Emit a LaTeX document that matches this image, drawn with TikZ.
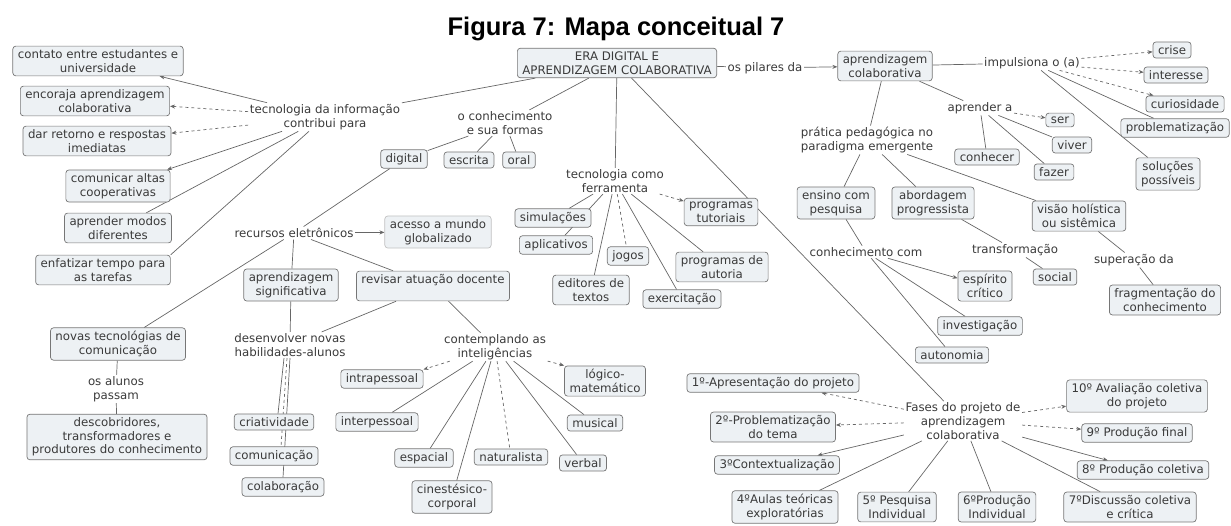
\documentclass[tikz,border=0pt]{standalone}
\usepackage{fontspec}
\setmainfont{DejaVu Sans}
\newfontfamily\titlefont{Liberation Sans}
\usetikzlibrary{arrows.meta,backgrounds}
\definecolor{boxfill}{HTML}{EDF1F4}
\definecolor{boxline}{HTML}{767676}
\definecolor{linkc}{HTML}{666666}
\definecolor{txtc}{HTML}{3A3A3A}
\begin{document}
\begin{tikzpicture}[x=1pt,y=-1pt,font=\fontsize{11.8}{13.6}\selectfont,
    concept/.style={draw=boxline,fill=boxfill,rounded corners=3pt,align=center,
        inner xsep=5pt,inner ysep=3.5pt,line width=0.7pt,text=txtc},
    phrase/.style={align=center,inner sep=1.5pt,text=txtc},
    link/.style={draw=linkc,line width=0.7pt},
    arr/.style={link,-{Stealth[length=5pt,width=4pt]}},
    dlink/.style={link,dashed},
    darr/.style={arr,dashed}]
        \useasboundingbox (0,0) rectangle (1231,525);
        %% Title
        \node[anchor=base,font=\titlefont\bfseries\fontsize{25.5}{30}\selectfont] (title) at (616,35) {Figura 7: Mapa conceitual 7};
        %% Root
        \node[concept] (era) at (617,63) {ERA DIGITAL E\\APRENDIZAGEM COLABORATIVA};
        %% Tecnologia da informacao
        \node[phrase] (tecinfo) at (325,117) {tecnologia da informação\\contribui para};
        \node[concept] (contato) at (98,61) {contato entre estudantes e\\universidade};
        \node[concept] (encoraja) at (95,101) {encoraja aprendizagem\\colaborativa};
        \node[concept] (retorno) at (97,141) {dar retorno e respostas\\imediatas};
        \node[concept] (comunicar) at (118,186) {comunicar altas\\cooperativas};
        \node[concept] (modos) at (118,228) {aprender modos\\diferentes};
        \node[concept] (enfatizar) at (103,270) {enfatizar tempo para\\as tarefas};
        %% Conhecimento e suas formas
        \node[phrase] (conhec) at (505,123) {o conhecimento\\e sua formas};
        \node[concept] (digital) at (404,159) {digital};
        \node[concept] (escrita) at (469,160) {escrita};
        \node[concept] (oral) at (519,160) {oral};
        \node[phrase] (recursos) at (294,233) {recursos eletrônicos};
        \node[concept,draw=boxline!45] (acesso) at (438,232) {acesso a mundo\\globalizado};
        \node[concept] (signif) at (291,285) {aprendizagem\\significativa};
        \node[concept] (revisar) at (433,286) {revisar atuação docente\\\mbox{}};
        \node[concept] (novas) at (118,344) {novas tecnológias de\\comunicação};
        \node[phrase] (alunos) at (116,389) {os alunos\\passam};
        \node[concept] (descob) at (117,437) {descobridores,\\transformadores e\\produtores do conhecimento};
        \node[phrase] (habil) at (290,345) {desenvolver novas\\habilidades-alunos};
        \node[concept] (criat) at (274,422) {criatividade};
        \node[concept] (comunic) at (274,456) {comunicação};
        \node[concept] (colab) at (283,487) {colaboração};
        %% Inteligencias
        \node[phrase] (contemp) at (495,347) {contemplando as\\inteligências};
        \node[concept] (intra) at (382,379) {intrapessoal};
        \node[concept] (inter) at (377,422) {interpessoal};
        \node[concept] (logico) at (605,381) {lógico-\\matemático};
        \node[concept] (musical) at (595,423) {musical};
        \node[concept] (espacial) at (424,458) {espacial};
        \node[concept] (natural) at (511,457) {naturalista};
        \node[concept] (verbal) at (583,463) {verbal};
        \node[concept] (cines) at (452,497) {cinestésico-\\corporal};
        %% Tecnologia como ferramenta
        \node[phrase] (ferram) at (615,181) {tecnologia como\\ferramenta};
        \node[concept] (simul) at (553,218) {simulações};
        \node[concept] (aplic) at (556,245) {aplicativos};
        \node[concept] (jogos) at (628,256) {jogos};
        \node[concept] (editores) at (591,290) {editores de\\textos};
        \node[concept] (exerc) at (682,299) {exercitação};
        \node[concept] (tutor) at (721,212) {programas\\tutoriais};
        \node[concept] (autoria) at (722,267) {programas de\\autoria};
        %% Aprendizagem colaborativa
        \node[phrase] (pilares) at (765,68) {os pilares da};
        \node[concept] (apcolab) at (885,66) {aprendizagem\\colaborativa};
        \node[phrase] (impuls) at (1032,63) {impulsiona o (a)};
        \node[concept] (crise) at (1172,50) {crise};
        \node[concept] (interesse) at (1176,75) {interesse};
        \node[concept] (curios) at (1185,104) {curiosidade};
        \node[concept] (problem) at (1175,128) {problematização};
        \node[concept] (solucoes) at (1168,174) {soluções\\possíveis};
        \node[phrase] (aprender) at (980,108) {aprender a};
        \node[concept] (ser) at (1060,120) {ser};
        \node[concept] (viver) at (1072,145) {viver};
        \node[concept] (conhecer) at (987,157) {conhecer};
        \node[concept] (fazer) at (1054,172) {fazer};
        \node[phrase] (pratica) at (867,140) {prática pedagógica no\\paradigma emergente};
        \node[concept] (ensino) at (836,203) {ensino com\\pesquisa};
        \node[concept] (abord) at (933,203) {abordagem\\progressista};
        \node[concept] (visao) at (1079,216) {visão holística\\ou sistêmica};
        \node[phrase] (conhecom) at (866,252) {conhecimento com};
        \node[phrase] (transf) at (1015,250) {transformação};
        \node[concept] (social) at (1055,277) {social};
        \node[phrase] (superacao) at (1134,260) {superação da};
        \node[concept] (fragment) at (1165,300) {fragmentação do\\conhecimento};
        \node[concept] (espirito) at (985,286) {espírito\\crítico};
        \node[concept] (investig) at (980,326) {investigação};
        \node[concept] (autonomia) at (952,355) {autonomia};
        %% Fases do projeto
        \node[phrase] (fases) at (963,421) {Fases do projeto de\\aprendizagem\\colaborativa};
        \node[concept] (fase1) at (773,383) {1º-Apresentação do projeto};
        \node[concept] (fase2) at (773,427) {2º-Problematização\\do tema};
        \node[concept] (fase3) at (777,465) {3ºContextualização};
        \node[concept] (fase4) at (785,507) {4ºAulas teóricas\\exploratórias};
        \node[concept] (fase5) at (897,507) {5º Pesquisa\\Individual};
        \node[concept] (fase6) at (997,507) {6ºProdução\\Individual};
        \node[concept] (fase7) at (1130,507) {7ºDiscussão coletiva\\e crítica};
        \node[concept] (fase8) at (1143,470) {8º Produção coletiva};
        \node[concept] (fase9) at (1137,433) {9º Produção final};
        \node[concept] (fase10) at (1137,396) {10º Avaliação coletiva\\do projeto};
        %% Connectors
        \begin{pgfonlayer}{background}
        \draw[link] (era) -- (tecinfo);
        \draw[arr] (tecinfo) -- (contato);
        \draw[darr] (tecinfo) -- (encoraja);
        \draw[darr] (tecinfo) -- (retorno);
        \draw[arr] (tecinfo) -- (comunicar);
        \draw[link] (tecinfo) -- (modos);
        \draw[link] (tecinfo) -- (enfatizar.north east);
        \draw[link] (era) -- (conhec);
        \draw[link] (conhec) -- (digital);
        \draw[link] (conhec) -- (escrita);
        \draw[link] (conhec) -- (oral);
        \draw[link] (digital) -- (recursos);
        \draw[arr] (recursos) -- (acesso);
        \draw[link] (recursos) -- (signif);
        \draw[link] (recursos) -- (revisar);
        \draw[link] (recursos) -- (novas);
        \draw[link] (novas) -- (alunos);
        \draw[link] (alunos) -- (descob);
        \draw[link] (signif) -- (habil);
        \draw[link] (revisar) -- (habil);
        \draw[link] ([xshift=-6pt]habil.south) -- ([xshift=4pt]criat.north);
        \draw[dlink] ([xshift=-3pt]habil.south) -- ([xshift=7pt]comunic.north);
        \draw[link] (habil.south) -- (colab.north);
        \draw[link] (revisar) -- (contemp);
        \draw[darr] (contemp) -- (intra.north east);
        \draw[link] (contemp) -- (inter);
        \draw[link] (contemp) -- (espacial);
        \draw[link] (contemp) -- (cines);
        \draw[dlink] (contemp) -- (natural);
        \draw[link] (contemp) -- (verbal);
        \draw[link] (contemp) -- (musical);
        \draw[darr] (contemp) -- (logico.north west);
        \draw[link] (era) -- (ferram);
        \draw[link] (ferram) -- (simul);
        \draw[link] (ferram) -- (aplic);
        \draw[dlink] (ferram) -- (jogos);
        \draw[link] (ferram) -- (editores);
        \draw[link] (ferram) -- (exerc);
        \draw[link] (ferram) -- (autoria);
        \draw[darr] (ferram) -- (tutor);
        \draw[link] (era) -- (pilares);
        \draw[arr] (pilares) -- (apcolab);
        \draw[link] (apcolab) -- (impuls);
        \draw[darr] (impuls) -- (crise);
        \draw[darr] (impuls) -- (interesse);
        \draw[darr] (impuls) -- (curios);
        \draw[link] (impuls) -- (problem);
        \draw[link] (impuls) -- (solucoes);
        \draw[link] (apcolab) -- (aprender);
        \draw[darr] (aprender) -- (ser);
        \draw[link] (aprender) -- (viver);
        \draw[link] (aprender) -- (fazer);
        \draw[link] (aprender) -- (conhecer);
        \draw[link] (apcolab) -- (pratica);
        \draw[link] (pratica) -- (ensino);
        \draw[link] (pratica) -- (abord);
        \draw[link] (pratica) -- (visao);
        \draw[link] (ensino) -- (conhecom);
        \draw[arr] (conhecom) -- (espirito);
        \draw[link] (conhecom) -- (investig);
        \draw[link] (conhecom) -- (autonomia);
        \draw[link] (abord) -- (transf);
        \draw[link] (transf) -- (social);
        \draw[link] (visao) -- (superacao);
        \draw[link] (superacao) -- (fragment);
        \draw[link] (era) -- (fases);
        \draw[darr] (fases) -- (fase1);
        \draw[darr] (fases) -- (fase2);
        \draw[arr] (fases) -- (fase3);
        \draw[link] (fases) -- (fase4);
        \draw[link] (fases) -- (fase5);
        \draw[link] (fases) -- (fase6);
        \draw[link] (fases) -- (fase7);
        \draw[arr] (fases) -- (fase8);
        \draw[darr] (fases) -- (fase9);
        \draw[darr] (fases) -- (fase10);
        \end{pgfonlayer}
    \end{tikzpicture}
\end{document}
